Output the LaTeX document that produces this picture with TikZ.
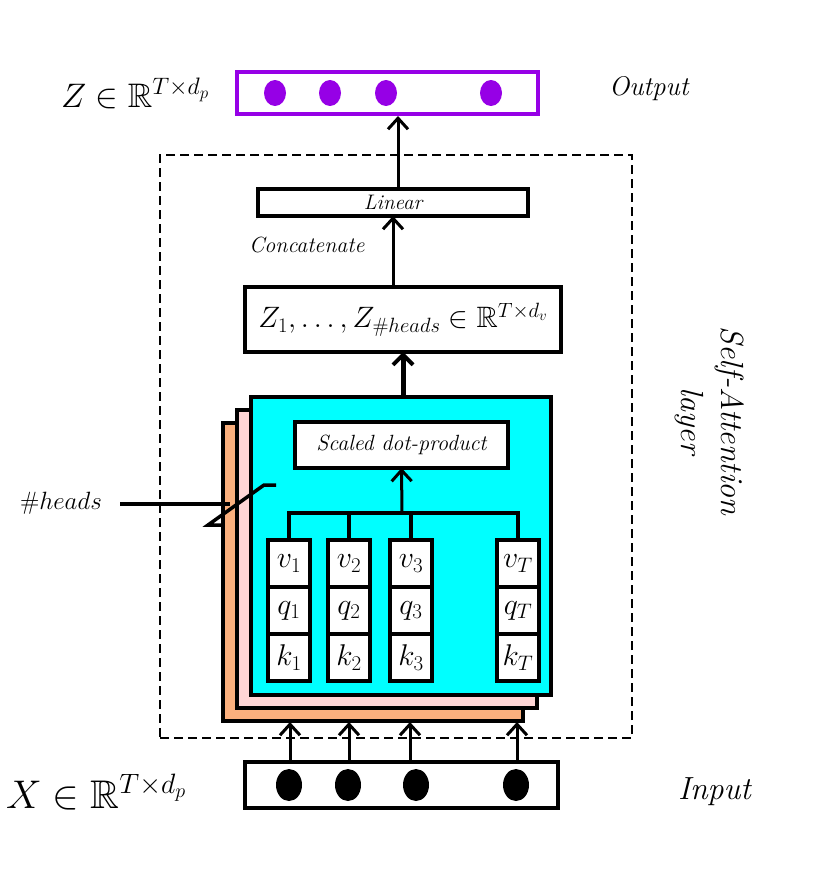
\RequirePackage{fix-cm}
\documentclass[tikz,border=0pt]{standalone}
\usepackage{amssymb}
\usetikzlibrary{arrows.meta,calc}
\definecolor{outpurple}{RGB}{150,0,230}
\definecolor{headcyan}{RGB}{0,255,255}
\definecolor{headpink}{RGB}{255,214,214}
\definecolor{headpeach}{RGB}{251,176,126}
\tikzset{
  thickbox/.style={draw, line width=4pt, inner sep=0pt, outer sep=0pt, fill=white},
  cellbox/.style={draw, line width=4pt, inner sep=0pt, outer sep=0pt, fill=white, minimum width=42pt, minimum height=47pt, font=\fontsize{30}{32}\selectfont},
  headbox/.style={draw, line width=4pt, inner sep=0pt, outer sep=0pt, minimum width=300pt, minimum height=298pt},
  arr/.style={line width=3pt, -{Straight Barb[length=11pt,width=20pt,line width=3pt]}},
  thickarr/.style={line width=5pt, -{Straight Barb[length=10pt,width=20pt,line width=4pt]}},
  link/.style={line width=3.5pt},
  lbl/.style={inner sep=0pt, outer sep=0pt}
}
\begin{document}
\begin{tikzpicture}[x=1pt,y=-1pt]
\useasboundingbox (0,0) rectangle (830,875);
% dashed self-attention frame
\node[draw, dashed, dash pattern=on 9pt off 5pt, line width=2pt, minimum width=472pt, minimum height=583pt, inner sep=0pt] (sal) at (396,446.5) {};
\node[lbl, rotate=-90, align=center, font=\fontsize{32}{40}\selectfont\itshape] (saltext) at (710,421) {Self-Attention\\layer};
% output
\node[draw=outpurple, line width=4pt, minimum width=301pt, minimum height=42pt, inner sep=0pt] (out) at (387.5,93) {};
\foreach \x in {275,330,386,491} \fill[outpurple] (\x,93) ellipse (11 and 13);
\node[lbl, anchor=base west, font=\fontsize{34}{36}\selectfont] (zlab) at (61,107) {$Z \in \mathbb{R}^{T\times d_p}$};
\node[lbl, anchor=west, font=\fontsize{27}{29}\selectfont\itshape] (outlab) at (609,89) {Output};
% linear
\node[thickbox, minimum width=270pt, minimum height=27pt, font=\fontsize{21}{23}\selectfont\itshape] (lin) at (393,202.5) {Linear};
\node[lbl, anchor=west, font=\fontsize{22}{24}\selectfont\itshape] (concat) at (249,245) {Concatenate};
% Z heads box
\node[thickbox, minimum width=316pt, minimum height=65pt, font=\fontsize{29.5}{31}\selectfont] (zh) at (403,319.5) {$Z_1,\ldots,Z_{\#heads}\in\mathbb{R}^{T\times d_v}$};
% heads stack
\node[headbox, fill=headpeach] (hback) at (372.5,571.5) {};
\node[headbox, fill=headpink] (hmid) at (387,558.5) {};
\node[headbox, fill=headcyan] (head) at (401,546) {};
\node[thickbox, minimum width=213pt, minimum height=46pt, font=\fontsize{22}{24}\selectfont\itshape] (sdp) at (401.5,445) {Scaled dot-product};
% columns
\foreach \n/\x/\s in {1/289/1,2/349/2,3/411/3,4/518/T}{
  \node[cellbox] (v\n) at (\x,563.5) {$v_{\s}$};
  \node[cellbox] (q\n) at (\x,610.5) {$q_{\s}$};
  \node[cellbox] (k\n) at (\x,657.5) {$k_{\s}$};
}
\coordinate (bl) at (289,513);
\coordinate (br) at (518,513);
\coordinate (jn) at (402,513);
\draw[link, line cap=rect] (v1.north) -- (bl) -- (br) -- (v4.north);
\draw[link] (v2.north) -- (v2.north |- bl);
\draw[link] (v3.north) -- (v3.north |- bl);
\draw[arr] (jn) -- (sdp.south);
% arrows up
\draw[thickarr] (head.north -| zh.south) -- (zh.south);
\draw[arr] (393,287) coordinate (zt) -- (lin.south -| zt);
\draw[arr] (398,189) coordinate (lt) -- (out.south -| lt);
% #heads marker
\node[lbl, anchor=west, font=\fontsize{25}{27}\selectfont] (hlab) at (20,503) {$\#heads$};
\coordinate (hm1) at (120,504);
\coordinate (hm2) at (230,504);
\draw[link] (hm1) -- (hm2);
\draw[link, line join=miter] (222,525) -- (208,525) -- (264,485) -- (276,485);
% input
\node[thickbox, minimum width=313pt, minimum height=46pt] (in) at (401.5,785) {};
\foreach \x in {289,348,416,516} \fill (\x,785) ellipse (13 and 16);
\foreach \n/\x in {1/290,2/349,3/410,4/517}{
  \coordinate (t\n) at (\x,722);
  \draw[arr] (t\n |- in.north) -- (t\n);
}
\node[lbl, anchor=base west, font=\fontsize{40}{42}\selectfont] (xlab) at (6,808) {$X \in \mathbb{R}^{T\times d_p}$};
\node[lbl, anchor=west, font=\fontsize{32}{34}\selectfont\itshape] (inlab) at (678,792) {Input};
\end{tikzpicture}
\end{document}
